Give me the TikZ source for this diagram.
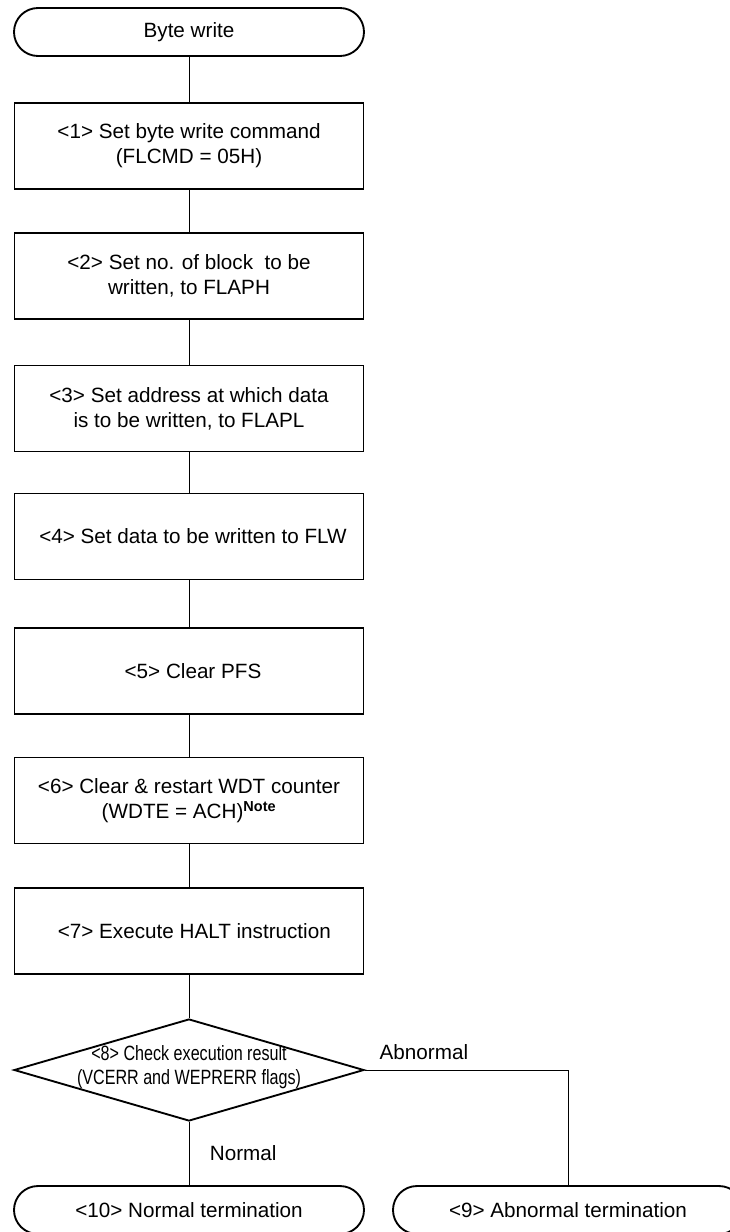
\documentclass[tikz,border=0pt]{standalone}
\usepackage{fontspec}
\usepackage{graphicx}
\setmainfont{Liberation Sans}
\usetikzlibrary{shapes.geometric}

\begin{document}
\begin{tikzpicture}[x=0.75pt, y=-0.75pt,
    font=\fontsize{15.5}{18.8}\selectfont,
    termbox/.style={draw, line width=1.4pt, rounded corners=18pt,
        minimum width=262.5pt, minimum height=36pt, inner sep=0pt},
    procbox/.style={draw, line width=1.4pt, minimum width=261.75pt,
        minimum height=64.5pt, inner sep=0pt, align=center},
    decision/.style={draw, diamond, line width=1.4pt, minimum width=262.5pt,
        minimum height=76.5pt, inner sep=0pt},
    link/.style={line width=0.6pt}]
    \useasboundingbox (0,0) rectangle (730,1232);

    % start and the steps
    \node[termbox] (start) at (189,32) {Byte write};
    \node[procbox] (b1) at (189,146) {<1> Set byte write command\\(FLCMD = 05H)};
    \node[procbox] (b2) at (189,276) {<2> Set no. of block\ \ to be\\written, to FLAPH};
    \node[procbox] (b3) at (189,408.5) {<3> Set address at which data\\is to be written, to FLAPL};
    \node[procbox] (b4) at (189,536.5) {\hspace{6pt}<4> Set data to be written to FLW};
    \node[procbox] (b5) at (189,671) {\hspace{6pt}<5> Clear PFS};
    \node[procbox] (b6) at (189,800.5) {<6> Clear \& restart WDT counter\\(WDTE = ACH)\textsuperscript{\bfseries Note}};
    \node[procbox] (b7) at (189,931) {\hspace{8pt}<7> Execute HALT instruction};

    % check of the result
    \node[decision] (chk) at (189,1070) {};
    \node[align=center, inner sep=0pt] (chktxt) at (189,1067)
        {\scalebox{0.78}[1]{<8> Check execution result}\\[-1pt]
         \scalebox{0.78}[1]{(VCERR and WEPRERR flags)}};

    % ends
    \node[termbox] (nrm) at (189,1210) {<10> Normal termination};
    \node[termbox] (abn) at (568,1210) {<9> Abnormal termination};

    \draw[link] (start) -- (b1) -- (b2) -- (b3) -- (b4) -- (b5) -- (b6) -- (b7) -- (chk);
    \draw[link] (chk) -- (nrm) node[pos=0.5, anchor=west, xshift=12pt] (lnrm) {Normal};
    \draw[link] (chk.east) -| (abn.north);
    \node[anchor=west] (labn) at (375,1052) {Abnormal};
\end{tikzpicture}
\end{document}
